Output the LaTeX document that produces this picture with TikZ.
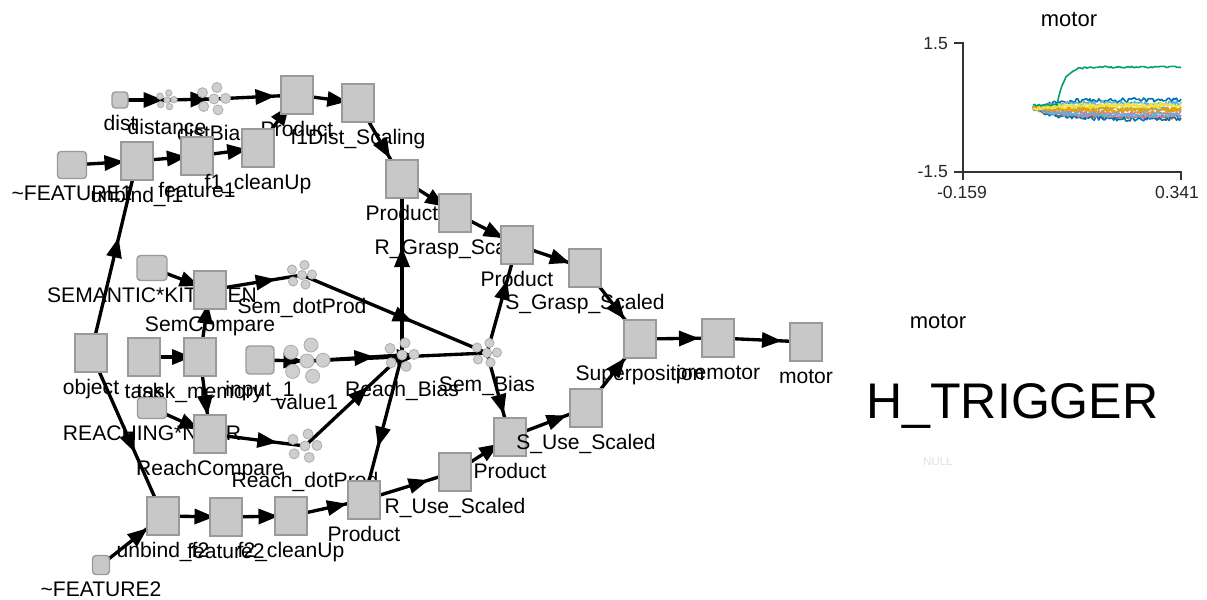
\documentclass[tikz,border=0pt]{standalone}
\usepackage{fontspec}
\setmainfont{Liberation Sans}
\usetikzlibrary{arrows.meta, decorations.markings, backgrounds}

\definecolor{boxgray}{HTML}{C8C8C8}
\definecolor{boxedge}{HTML}{9A9A9A}
\definecolor{ensgray}{HTML}{CFCFCF}
\definecolor{ensedge}{HTML}{B0B0B0}
\definecolor{okBlue}{HTML}{0072B2}
\definecolor{okVerm}{HTML}{D55E00}
\definecolor{okGreen}{HTML}{009E73}
\definecolor{okPink}{HTML}{CC79A7}
\definecolor{okOrange}{HTML}{E69F00}
\definecolor{okSky}{HTML}{56B4E9}
\definecolor{okYellow}{HTML}{F0E442}

\begin{document}
\begin{tikzpicture}[x=0.02cm, y=-0.02cm,
    % ====================
    % NODE STYLES
    % ====================
    box/.style={
        rectangle, draw=boxedge, fill=boxgray, line width=0.8pt,
        minimum width=0.64cm, minimum height=0.76cm, inner sep=0pt
    },
    inbox/.style 2 args={
        box, rounded corners=2pt,
        minimum width=#1, minimum height=#2
    },
    ens/.style 2 args={
        circle, inner sep=0pt, minimum size={0.02cm*(2.3*#1+2*#2+2)},
        path picture={
            \foreach \dx/\dy in {-1/0.55, 0.25/1, 0/0, 1/0.05, -0.9/-0.65, 0.35/-0.95}
                \filldraw[fill=ensgray, draw=ensedge, line width=0.5pt]
                    ([shift={(\dx*#1*0.02cm, \dy*#1*0.02cm)}]path picture bounding box.center)
                    circle[radius=#2*0.02cm];
        }
    },
    every label/.style={
        font=\fontsize{12}{14}\selectfont, inner sep=0pt,
        text height=9pt, text depth=2.5pt
    },
    label distance=3pt,
    conn/.style={
        line width=1.9pt, postaction={decorate},
        decoration={markings, mark=at position 0.5 with
            {\arrow[xshift=0.4cm]{Triangle[length=0.4cm, width=0.3cm]}}}
    },
    axisline/.style={draw=black!80, line width=1.1pt},
    tick/.style={font=\fontsize{10}{12}\selectfont, text=black!85, inner sep=1pt},
    title/.style={font=\fontsize{12.5}{14}\selectfont, inner sep=1pt},
    trace/.style={line width=0.9pt, line join=round}
]

\useasboundingbox (0,0) rectangle (1207,599);

% ====================
% NODES
% ====================

% distance chain
\node[inbox={0.32cm}{0.32cm}, label=below:dist] (dist) at (120,100) {};
\node[ens={7}{3.2}, label=below:distance] (distance) at (167,100) {};
\node[ens={11.5}{5}, label=below:distBias] (distBias) at (214,99) {};
\node[box, label=below:Product] (prodDist) at (297,95) {};
\node[box, label=below:f1Dist\_Scaling] (f1Dist) at (358,103) {};

% feature 1 chain
\node[inbox={0.58cm}{0.54cm}, label=below:\textasciitilde FEATURE1] (feat1in) at (72,165) {};
\node[box, label=below:unbind\_f1] (unbind1) at (137,161) {};
\node[box, label=below:feature1] (feature1) at (197,156) {};
\node[box, label=below:f1\_cleanUp] (clean1) at (258,148) {};

% grasp chain
\node[box, label=below:Product] (prodGraspR) at (402,179) {};
\node[box, label=below:R\_Grasp\_Scaled] (rGrasp) at (455,213) {};
\node[box, label=below:Product] (prodGraspS) at (517,245) {};
\node[box, label=below:S\_Grasp\_Scaled] (sGrasp) at (585,268) {};

% semantic compare
\node[inbox={0.6cm}{0.5cm}, label=below:SEMANTIC*KITCHEN] (semIn) at (152,268) {};
\node[box, label=below:SemCompare] (semComp) at (210,290) {};
\node[ens={10}{4.6}, label=below:Sem\_dotProd] (semDot) at (302,275) {};

% middle row
\node[box, label=below:object] (object) at (91,353) {};
\node[box, label=below:task] (task) at (144,357) {};
\node[box, label=below:task\_memory] (taskMem) at (200,357) {};
\node[inbox={0.56cm}{0.56cm}, label=below:input\_1] (input1) at (260,360) {};
\node[ens={16}{7}, label=below:value1] (value1) at (307,361) {};
\node[ens={12}{5}, label=below:Reach\_Bias] (reachBias) at (402,355) {};
\node[ens={10}{4.6}, label=below:Sem\_Bias] (semBias) at (487,353) {};

% reaching compare
\node[inbox={0.58cm}{0.42cm}, label=below:REACHING*NEAR] (reachIn) at (152,408) {};
\node[box, label=below:ReachCompare] (reachComp) at (210,434) {};
\node[ens={12}{5}, label=below:Reach\_dotProd] (reachDot) at (305,446) {};

% feature 2 and use chain
\node[inbox={0.34cm}{0.38cm}, label=below:\textasciitilde FEATURE2] (feat2in) at (101,565) {};
\node[box, label=below:unbind\_f2] (unbind2) at (163,516) {};
\node[box, label=below:feature2] (feature2) at (226,517) {};
\node[box, label=below:f2\_cleanUp] (clean2) at (291,516) {};
\node[box, label=below:Product] (prodUseR) at (364,500) {};
\node[box, label=below:R\_Use\_Scaled] (rUse) at (455,472) {};
\node[box, label=below:Product] (prodUseS) at (510,437) {};
\node[box, label=below:S\_Use\_Scaled] (sUse) at (586,408) {};

% output
\node[box, label=below:Superposition] (superpos) at (640,339) {};
\node[box, label=below:premotor] (premotor) at (718,338) {};
\node[box, label=below:motor] (motor) at (806,342) {};

% ====================
% CONNECTIONS (centre to centre, under the nodes)
% ====================
\begin{scope}[on background layer]
\draw[conn] (dist.center) -- (distance.center);
\draw[conn] (distance.center) -- (distBias.center);
\draw[conn] (distBias.center) -- (prodDist.center);
\draw[conn] (prodDist.center) -- (f1Dist.center);
\draw[conn] (clean1.center) -- (prodDist.center);
\draw[conn] (f1Dist.center) -- (prodGraspR.center);

\draw[conn] (feat1in.center) -- (unbind1.center);
\draw[conn] (unbind1.center) -- (feature1.center);
\draw[conn] (feature1.center) -- (clean1.center);
\draw[conn] (object.center) -- (unbind1.center);
\draw[conn] (object.center) -- (unbind2.center);

\draw[conn] (feat2in.center) -- (unbind2.center);
\draw[conn] (unbind2.center) -- (feature2.center);
\draw[conn] (feature2.center) -- (clean2.center);
\draw[conn] (clean2.center) -- (prodUseR.center);
\draw[conn] (prodUseR.center) -- (rUse.center);
\draw[conn] (rUse.center) -- (prodUseS.center);
\draw[conn] (prodUseS.center) -- (sUse.center);
\draw[conn] (sUse.center) -- (superpos.center);

\draw[conn] (prodGraspR.center) -- (rGrasp.center);
\draw[conn] (rGrasp.center) -- (prodGraspS.center);
\draw[conn] (prodGraspS.center) -- (sGrasp.center);
\draw[conn] (sGrasp.center) -- (superpos.center);
\draw[conn] (superpos.center) -- (premotor.center);
\draw[conn] (premotor.center) -- (motor.center);

\draw[conn] (semIn.center) -- (semComp.center);
\draw[conn] (task.center) -- (taskMem.center);
\draw[conn] (taskMem.center) -- (semComp.center);
\draw[conn] (taskMem.center) -- (reachComp.center);
\draw[conn] (reachIn.center) -- (reachComp.center);
\draw[conn] (semComp.center) -- (semDot.center);
\draw[conn] (reachComp.center) -- (reachDot.center);
\draw[conn] (input1.center) -- (value1.center);

\draw[conn] (value1.center) -- (reachBias.center);
\draw[conn] (value1.center) -- (semBias.center);
\draw[conn] (semDot.center) -- (semBias.center);
\draw[conn] (reachDot.center) -- (reachBias.center);
\draw[conn] (reachBias.center) -- (prodGraspR.center);
\draw[conn] (reachBias.center) -- (prodUseR.center);
\draw[conn] (semBias.center) -- (prodGraspS.center);
\draw[conn] (semBias.center) -- (prodUseS.center);
\end{scope}

% ====================
% VALUE PLOT
% ====================
\node[title] (plotTitle) at (1069,20) {motor};
\draw[axisline] (954,43) -- (963,43) -- (963,180);
\draw[axisline] (954,172) -- (1181,172) -- (1181,180);
\node[tick, anchor=east] (yMax) at (950,44) {1.5};
\node[tick, anchor=east] (yMin) at (950,172) {-1.5};
\node[tick] (xMin) at (962,192) {-0.159};
\node[tick] (xMax) at (1177,192) {0.341};

\pgfmathsetseed{7}
\foreach \yend/\col in {109/okSky, 113/okPink, 117/okVerm, 119/okBlue, 116/okPink,
                        111/okOrange, 100/okBlue, 115/okSky, 103/okSky, 108/okOrange,
                        106/okYellow, 105/okYellow}
    \draw[trace, \col] plot[variable=\t, domain=1033:1181, samples=100]
        (\t, {108 + (\yend-108)*(1-exp(-(\t-1033)/22)) + 2.2*rand});
\draw[trace, okGreen] plot[variable=\t, domain=1033:1181, samples=100]
    (\t, {105 - 38*(1-exp(-max(\t-1057,0)/7)) + 0.9*rand});

% ====================
% SEMANTIC POINTER DISPLAY
% ====================
\node[title] (spaTitle) at (938,322) {motor};
\node[font=\fontsize{28.5}{30}\selectfont, anchor=base west, inner sep=0pt]
    (spaTop) at (866,418) {H\_TRIGGER};
\node[font=\fontsize{6.5}{7}\selectfont, text=black!12, inner sep=0pt]
    (spaNull) at (938,462) {NULL};

\end{tikzpicture}
\end{document}
